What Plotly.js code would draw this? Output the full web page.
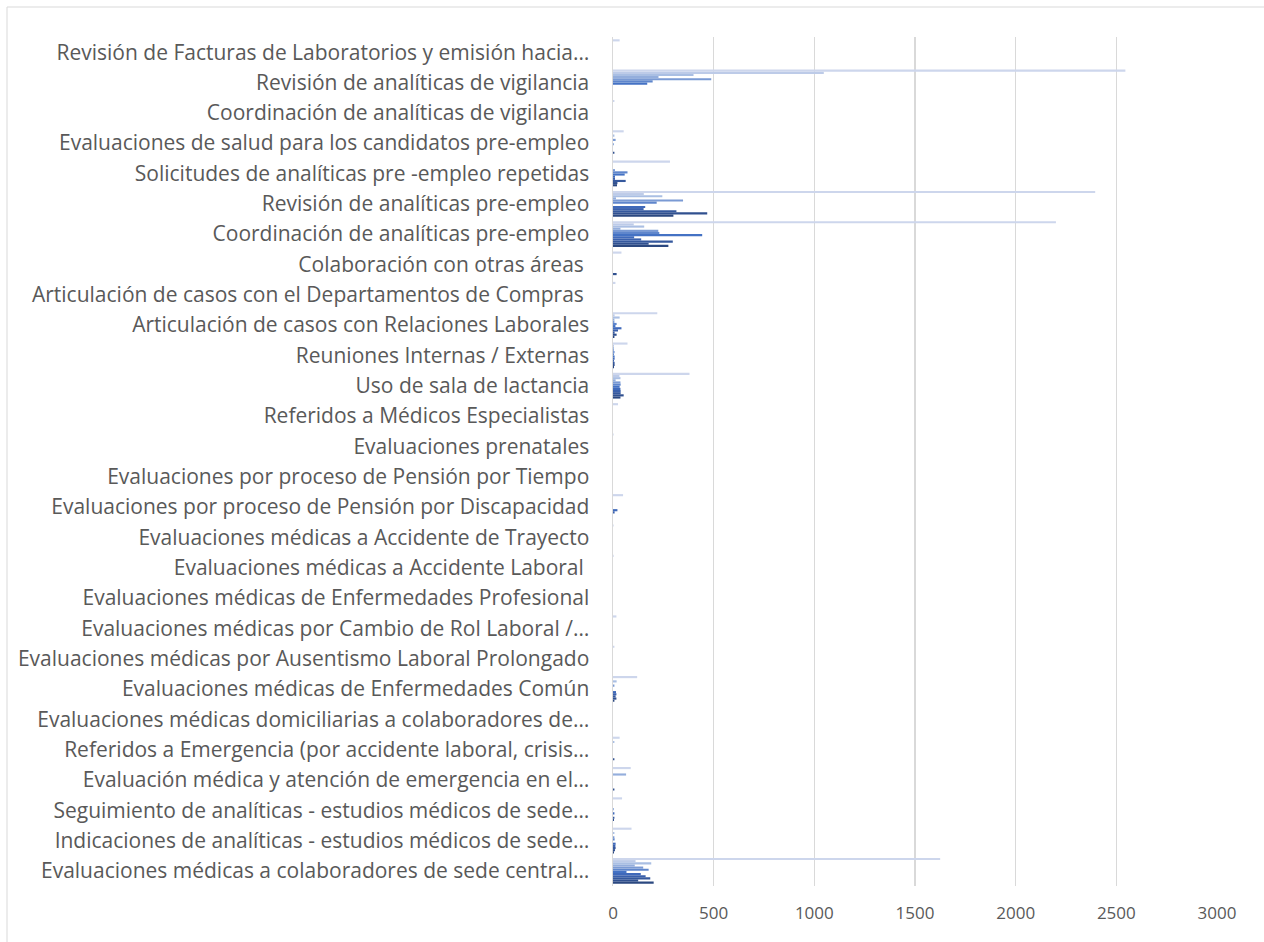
<!DOCTYPE html>
<html>
<head>
<meta charset="utf-8">
<script src="https://cdn.plot.ly/plotly-3.0.1.min.js"></script>
<style>
html,body{margin:0;padding:0;background:#fff;}
#chart{width:1264px;height:942px;}
</style>
</head>
<body>
<div id="chart"></div>
<script>
// Categories from bottom to top (Excel bar-chart order)
const categories = [
  "Evaluaciones médicas a colaboradores de sede central…",
  "Indicaciones de analíticas - estudios médicos de sede…",
  "Seguimiento de analíticas - estudios médicos de sede…",
  "Evaluación médica y atención de emergencia en el…",
  "Referidos a Emergencia (por accidente laboral, crisis…",
  "Evaluaciones médicas domiciliarias a colaboradores de…",
  "Evaluaciones médicas de Enfermedades Común",
  "Evaluaciones médicas por Ausentismo Laboral Prolongado",
  "Evaluaciones médicas por Cambio de Rol Laboral /…",
  "Evaluaciones médicas de Enfermedades Profesional",
  "Evaluaciones médicas a Accidente Laboral\u00a0",
  "Evaluaciones médicas a Accidente de Trayecto",
  "Evaluaciones por proceso de Pensión por Discapacidad",
  "Evaluaciones por proceso de Pensión por Tiempo",
  "Evaluaciones prenatales",
  "Referidos a Médicos Especialistas",
  "Uso de sala de lactancia",
  "Reuniones Internas / Externas",
  "Articulación de casos con Relaciones Laborales",
  "Articulación de casos con el Departamentos de Compras\u00a0",
  "Colaboración con otras áreas\u00a0",
  "Coordinación de analíticas pre-empleo",
  "Revisión de analíticas pre-empleo",
  "Solicitudes de analíticas pre -empleo repetidas",
  "Evaluaciones de salud para los candidatos pre-empleo",
  "Coordinación de analíticas de vigilancia",
  "Revisión de analíticas de vigilancia",
  "Revisión de Facturas de Laboratorios y emisión hacia…"
];

const seriesNames = ["Enero","Febrero","Marzo","Abril","Mayo","Junio","Julio","Agosto","Septiembre","Octubre","Noviembre","Total"];

const enero      = [202,5,0,0,0,0,7,0,0,0,0,0,0,0,0,0,37,5,7,0,0,275,300,20,0,0,0,0];
const febrero    = [125,10,5,7,7,0,17,0,0,0,0,0,0,0,0,0,53,8,18,0,18,177,468,22,7,0,0,0];
const marzo      = [185,13,7,0,0,0,13,0,0,0,0,0,0,0,0,0,38,8,8,0,0,297,315,63,0,0,0,0];
const abril      = [162,12,0,0,0,0,17,0,0,0,0,0,8,0,0,0,38,5,25,0,0,140,152,10,0,0,0,0];
const mayo       = [138,13,7,0,0,0,15,0,0,0,0,0,22,0,0,0,37,8,42,0,0,105,160,10,0,0,0,0];
const junio      = [67,0,0,0,0,0,0,0,0,0,0,0,0,0,0,0,33,8,12,0,0,443,0,58,3,0,170,0];
const julio      = [177,8,3,0,0,0,0,0,0,0,0,0,0,0,0,0,38,5,18,0,0,230,217,72,0,0,197,0];
const agosto     = [150,7,0,0,0,0,7,0,0,0,0,0,0,0,0,0,37,8,7,0,0,225,348,10,13,0,488,0];
const septiembre = [108,0,0,65,0,0,0,0,0,0,0,0,0,0,0,0,13,5,7,0,0,37,15,0,0,0,226,0];
const octubre    = [190,7,0,0,7,0,18,0,0,0,0,0,0,0,0,0,37,5,33,0,0,155,245,0,7,0,400,0];
const noviembre  = [112,0,0,0,0,0,0,0,0,0,0,0,0,0,0,0,32,5,8,0,0,103,153,0,0,0,1047,0];
const total      = [1625,92,45,88,33,0,120,7,17,0,3,3,50,0,3,25,380,72,220,12,42,2200,2395,283,53,7,2545,33];

const seriesValues = [enero,febrero,marzo,abril,mayo,junio,julio,agosto,septiembre,octubre,noviembre,total];

const colors = ["#2B4880","#30508F","#35589D","#3A60AC","#3F69BA","#4472C4",
                "#5F86CC","#7A9AD4","#94AEDC","#AABFE3","#BDCBE8","#CDD6EC"];

const xTicks = [0,500,1000,1500,2000,2500,3000];

const traces = seriesValues.map((vals, i) => ({
  type: "bar",
  orientation: "h",
  name: seriesNames[i],
  y: categories,
  x: vals,
  marker: {color: colors[i]},
  hoverinfo: "x+name"
}));

const L = 613, R = 47, T = 37, B = 56;
const W = 1264, H = 942;
const pw = W - L - R, ph = H - T - B;
function px2x(p){ return (p - L) / pw; }
function py2y(p){ return (H - B - p) / ph; }

const layout = {
  width: W, height: H,
  margin: {l: L, r: R, t: T, b: B, pad: 0},
  paper_bgcolor: "#ffffff",
  plot_bgcolor: "#ffffff",
  showlegend: false,
  barmode: "group",
  bargap: 0.15,
  bargroupgap: 0,
  font: {family: "'Open Sans', sans-serif", size: 21, color: "#595959"},
  xaxis: {
    range: [0, 3000],
    tickvals: xTicks,
    ticktext: xTicks.map(String),
    showgrid: true,
    gridcolor: "#D9D9D9",
    gridwidth: 1.3,
    zeroline: false,
    showline: false,
    ticks: "",
    ticklabelstandoff: 15,
    tickfont: {family: "'Open Sans', sans-serif", size: 17, color: "#595959"},
    fixedrange: true
  },
  yaxis: {
    type: "category",
    categoryorder: "array",
    categoryarray: categories,
    range: [-0.5, categories.length - 0.5],
    showgrid: false,
    zeroline: false,
    showline: true,
    linecolor: "#D9D9D9",
    linewidth: 1.5,
    ticks: "",
    ticklabelstandoff: 18,
    tickfont: {family: "'Open Sans', sans-serif", size: 21, color: "#595959"},
    automargin: false,
    fixedrange: true
  },
  shapes: [{
    type: "rect", xref: "paper", yref: "paper", layer: "below",
    x0: px2x(7), x1: px2x(1275), y0: py2y(955), y1: py2y(7),
    line: {color: "#D9D9D9", width: 1}, fillcolor: "rgba(0,0,0,0)"
  }]
};

Plotly.newPlot("chart", traces, layout, {displayModeBar: false, staticPlot: true});
</script>
</body>
</html>
